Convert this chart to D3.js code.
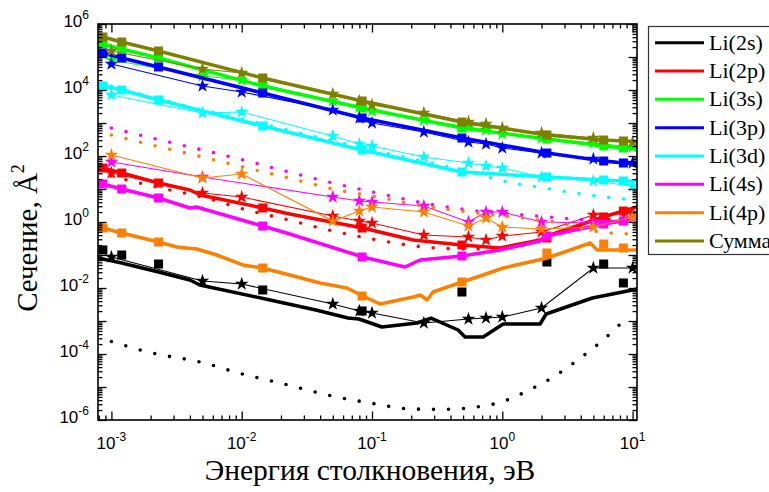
<!DOCTYPE html>
<html>
<head>
<meta charset="utf-8">
<script src="https://cdn.jsdelivr.net/npm/d3@7"></script>
<style>
  html, body { margin: 0; padding: 0; background: #fff; }
  svg { display: block; }
</style>
</head>
<body>
<svg id="chart" width="769" height="492"></svg>
<script>
// ---------- series ----------
const seriesNames  = ["Li(2s)", "Li(2p)", "Li(3s)", "Li(3p)", "Li(3d)", "Li(4s)", "Li(4p)", "Сумма"];
const seriesColors = ["#000000", "#ff0000", "#00ff00", "#0000ff", "#00ffff", "#ff00ff", "#ff8000", "#808000"];

// ---------- thick curves (energy, eV / cross section, Å^2) ----------
const gridUpper = [7.9e-4, 8.6e-4, 1.2e-3, 2.3e-3, 1.45e-2, 8.4e-2, 0.49, 2.2, 6.0, 8.5, 10.8];
const sumCurve  = [4.33e5, 4.04e5, 2.85e5, 1.52e5, 2.31e4, 4.64e3, 1070, 433, 305, 285, 266];
const li3sCurve = [2.66e5, 2.48e5, 1.75e5, 9.3e4, 1.32e4, 2850, 705, 327, 201, 175, 163];
const li3pCurve = [1.42e5, 1.32e5, 9.3e4, 4.98e4, 8100, 1420, 351, 123, 70.5, 61.4, 57.3];
const li3dCurve = [1.42e4, 1.32e4, 1.0e4, 4980, 811, 152, 32.7, 23.1, 18.7, 17.5, 17.5];

const li2pCurveE = [7.9e-4, 8.6e-4, 1.2e-3, 2.3e-3, 4.0e-3, 4.8e-3, 1.45e-2, 2.34e-2, 8.5e-2, 0.207, 0.49, 0.96, 1.95, 2.21, 5.96, 8.48, 10.8];
const li2pCurve  = [49.8, 43.3, 30.5, 15.2, 9.33, 6.58, 2.66, 1.75, 0.658, 0.285, 0.201, 0.163, 0.285, 0.376, 1.42, 2.15, 2.85];

const li4sCurveE = [7.9e-4, 8.6e-4, 1.2e-3, 2.3e-3, 4.0e-3, 4.5e-3, 1.45e-2, 2.34e-2, 8.5e-2, 0.179, 0.234, 0.49, 0.96, 1.95, 2.21, 5.96, 8.48, 10.8];
const li4sCurve  = [15.2, 14.2, 10, 5.34, 2.66, 2.85, 0.756, 0.433, 0.087, 0.0433, 0.0705, 0.0933, 0.142, 0.266, 0.376, 0.87, 1.07, 1.32];

const li4pCurveE = [7.9e-4, 8.6e-4, 1.2e-3, 2.3e-3, 3.17e-3, 4.52e-3, 6.44e-3, 1.02e-2, 1.45e-2, 2.34e-2, 3.99e-2, 6.43e-2, 8.5e-2, 0.115, 0.207, 0.234, 0.265, 0.294, 0.49, 0.676, 1.015, 2.21, 4.73, 5.36, 10, 10.8];
const li4pCurve  = [0.705, 0.658, 0.464, 0.248, 0.175, 0.152, 0.1, 0.0498, 0.0404, 0.0248, 0.0142, 0.01, 5.73e-3, 3.27e-3, 5.34e-3, 6.14e-3, 4.33e-3, 7.56e-3, 0.0152, 0.0231, 0.0404, 0.0811, 0.231, 0.142, 0.142, 0.142];

const li2sCurveE = [7.9e-4, 1.2e-3, 2.3e-3, 4.0e-3, 4.77e-3, 1.65e-2, 3.71e-2, 6.54e-2, 7.95e-2, 0.119, 0.222, 0.284, 0.458, 0.518, 0.713, 1.015, 1.95, 2.17, 4.91, 10, 10.8];
const li2sCurve  = [0.0811, 0.0573, 0.0305, 0.0175, 0.0123, 4.33e-3, 2.15e-3, 1.23e-3, 1.15e-3, 6.58e-4, 8.7e-4, 1.23e-3, 5.34e-4, 3.27e-4, 3.27e-4, 8.1e-4, 8.1e-4, 1.63e-3, 4.98e-3, 8.7e-3, 9.33e-3];

// ---------- square markers ----------
const squareE  = [8.6e-4, 1.2e-3, 2.3e-3, 1.45e-2, 8.4e-2, 0.49, 2.2, 6.0, 8.5];
const sumSq  = [4.04e5, 2.85e5, 1.52e5, 2.31e4, 4640, 1070, 433, 305, 285];
const li3sSq = [2.48e5, 1.75e5, 9.3e4, 1.32e4, 2850, 705, 327, 201, 175];
const li3pSq = [1.32e5, 9.3e4, 4.98e4, 8100, 1420, 351, 123, 70.5, 61.4];
const li3dSq = [1.32e4, 1.0e4, 4980, 811, 152, 32.7, 23.1, 18.7, 17.5];
const li2pSq = [43.3, 30.5, 15.2, 2.66, 0.658, 0.201, 0.327, 1.42, 2.15];
const li4sSq = [14.2, 10, 5.34, 0.756, 0.087, 0.0933, 0.376, 0.87, 1.07];
const li4pSq = [0.658, 0.464, 0.248, 0.0404, 5.73e-3, 0.0152, 0.115, 0.215, 0.163];
const li2sSq = [0.142, 0.1, 0.0533, 8.7e-3, 2.01e-3, 7.56e-3, 0.0614, 0.0533, 0.0142];

// ---------- star markers joined by thin lines ----------
const starE = [0.001, 0.005, 0.01, 0.05, 0.08, 0.1, 0.25, 0.55, 0.75, 1, 2, 5, 10];
const sumSt  = [1.52e5, 4.33e4, 3.27e4, 7560, 4640, 3510, 2010, 1070, 933, 705, 498, 351, 266];
const li3sSt = [8.1e4, 2.66e4, 2.01e4, 4640, 3050, 2310, 1230, 756, 614, 464, 351, 248, 187];
const li3pSt = [6.14e4, 1.32e4, 8700, 2480, 1420, 1000, 534, 266, 231, 175, 123, 81.1, 61.4];
const li3dSt = [7050, 2010, 2150, 404, 231, 201, 93.3, 61.4, 49.8, 43.3, 23.1, 17.5, 12.3];
const li2pSt = [30.5, 7.56, 5.72, 1.52, 1.07, 0.933, 0.404, 0.351, 0.285, 0.376, 0.498, 1.63, 1.87];
const li4sSt = [65.8, 23.1, null, 5.72, 4.33, 4.04, 3.05, 1.0, 2.01, 2.01, 1.0, 0.933, 1.32];
const li4pSt = [107, 21.5, 28.5, 1.07, 2.15, 2.85, 2.01, 0.756, 1.32, 0.705, 0.614, 0.705, 1.42];
const li2sSt = [0.087, 0.0163, 0.0132, 3.27e-3, 2.01e-3, 1.75e-3, 8.7e-4, 1.15e-3, 1.23e-3, 1.32e-3, 2.48e-3, 0.0404, 0.0404];

// ---------- dotted approximations ----------
const dotE = [1e-3, 2.2e-3, 5e-3, 1.1e-2, 2.3e-2, 5e-2, 0.11, 0.25, 0.55, 1.2, 2.8, 5.6, 10];
const li4sDot = [705, 327, 152, 70.5, 32.7, 15.2, 7.56, 3.76, 2.31, 1.75, 1.32, 1.07, 0.87];
const li4pDot = [433, 201, 93.3, 43.3, 21.5, 10, 5.72, 3.05, 2.01, 1.42, 0.933, 0.498, 0.433];
const li2pDot = [24.8, 11.5, 5.72, 2.31, 1.15, 0.534, 0.285, 0.175, 0.152, 0.175, 0.498, 1.0, 1.87];
const li3dDotE = [1e-3, 2.3e-3, 1.45e-2, 8.4e-2, 0.49, 1.2, 2.1, 3.6, 6.2, 10];
const li3dDot  = [1.32e4, 5340, 933, 175, 37.6, 15.2, 10.7, 7.56, 5.72, 4.64];
const li2sDotE = [0.001, 0.002, 0.005, 0.01, 0.02, 0.05, 0.1, 0.2, 0.35, 0.6, 1, 1.6, 2.6, 4, 6, 9.3];
const li2sDot  = [2.4e-4, 1.1e-4, 5.5e-5, 2.5e-5, 1.3e-5, 5.3e-6, 3.2e-6, 2.15e-6, 2.1e-6, 2.4e-6, 3.6e-6, 8.0e-6, 2.3e-5, 7.7e-5, 2.75e-4, 1.42e-3];

// ---------- axis ticks ----------
const xMajorTicks = [1e-3, 1e-2, 1e-1, 1, 10];
const xTickExponents = ["-3", "-2", "-1", "0", "1"];
const yLabelTicks = [1e-6, 1e-4, 1e-2, 1, 1e2, 1e4, 1e6];
const yTickExponents = ["-6", "-4", "-2", "0", "2", "4", "6"];

const xTitle = "Энергия столкновения, эВ";
const yTitle = "Сечение, Å";

// ---------- assemble ----------
const zip = (xs, ys) => xs.map((e, i) => ({ e, v: ys[i] })).filter(d => d.v != null);
const series = [
  { curve: zip(li2sCurveE, li2sCurve), sq: zip(squareE, li2sSq), st: zip(starE, li2sSt), dot: zip(li2sDotE, li2sDot) },
  { curve: zip(li2pCurveE, li2pCurve), sq: zip(squareE, li2pSq), st: zip(starE, li2pSt), dot: zip(dotE, li2pDot) },
  { curve: zip(gridUpper, li3sCurve),  sq: zip(squareE, li3sSq), st: zip(starE, li3sSt), dot: null },
  { curve: zip(gridUpper, li3pCurve),  sq: zip(squareE, li3pSq), st: zip(starE, li3pSt), dot: null },
  { curve: zip(gridUpper, li3dCurve),  sq: zip(squareE, li3dSq), st: zip(starE, li3dSt), dot: zip(li3dDotE, li3dDot) },
  { curve: zip(li4sCurveE, li4sCurve), sq: zip(squareE, li4sSq), st: zip(starE, li4sSt), dot: zip(dotE, li4sDot) },
  { curve: zip(li4pCurveE, li4pCurve), sq: zip(squareE, li4pSq), st: zip(starE, li4pSt), dot: zip(dotE, li4pDot) },
  { curve: zip(gridUpper, sumCurve),   sq: zip(squareE, sumSq),  st: zip(starE, sumSt),  dot: null }
];

const svg = d3.select("#chart");
const plot = { left: 98, top: 24, right: 637, bottom: 420 };

const x = d3.scaleLog().domain([7.89e-4, 10.81]).range([plot.left, plot.right]);
const y = d3.scaleLog().domain([1e-6, 1e6]).range([plot.bottom, plot.top]);

svg.append("rect").attr("width", 769).attr("height", 492).attr("fill", "#fff");

svg.append("defs").append("clipPath").attr("id", "plotClip")
  .append("rect")
  .attr("x", plot.left).attr("y", plot.top)
  .attr("width", plot.right - plot.left).attr("height", plot.bottom - plot.top);

const g = svg.append("g").attr("clip-path", "url(#plotClip)");

const line = d3.line().x(d => x(d.e)).y(d => y(d.v));
const smooth = d3.line().x(d => x(d.e)).y(d => y(d.v)).curve(d3.curveMonotoneX);
const star = d3.symbol().type(d3.symbolStar).size(58);

series.forEach((s, i) => {
  const c = seriesColors[i];
  const sg = g.append("g");
  sg.append("path").datum(s.curve).attr("d", line)
    .attr("fill", "none").attr("stroke", c).attr("stroke-width", 3.5)
    .attr("stroke-linejoin", "round");
  if (s.dot) {
    sg.append("path").datum(s.dot).attr("d", smooth)
      .attr("fill", "none").attr("stroke", c).attr("stroke-width", 3.6)
      .attr("stroke-linecap", "round").attr("stroke-dasharray", "0 15");
  }
  sg.append("path").datum(s.st).attr("d", line)
    .attr("fill", "none").attr("stroke", c).attr("stroke-width", 1.1);
  sg.selectAll("path.star").data(s.st).join("path").attr("class", "star")
    .attr("d", star)
    .attr("transform", d => `translate(${x(d.e)},${y(d.v)})`)
    .attr("fill", c);
  sg.selectAll("rect.sq").data(s.sq).join("rect").attr("class", "sq")
    .attr("x", d => x(d.e) - 4.5).attr("y", d => y(d.v) - 4.5)
    .attr("width", 9).attr("height", 9)
    .attr("fill", c);
});

// ---------- axes (ticks inward on all four sides) ----------
function decadeMinors(lo, hi) {
  const out = [];
  for (let p = lo; p <= hi; p++) for (let k = 2; k <= 9; k++) out.push(k * Math.pow(10, p));
  return out;
}
const xMinor = decadeMinors(-4, 1).filter(v => v > x.domain()[0] && v < x.domain()[1]);
const yMinor = decadeMinors(-6, 5);
const yMajor = d3.range(-6, 7).map(p => Math.pow(10, p));

function styleAxis(sel) {
  sel.select(".domain").remove();
  sel.selectAll(".tick line").attr("stroke", "#000").attr("stroke-width", 1.3);
  sel.selectAll(".tick text").remove();
}
const axes = svg.append("g");
[[d3.axisBottom, plot.bottom], [d3.axisTop, plot.top]].forEach(([fn, pos]) => {
  axes.append("g").attr("transform", `translate(0,${pos})`)
    .call(fn(x).tickValues(xMinor).tickSizeInner(-4.5).tickSizeOuter(0).tickFormat(""))
    .call(styleAxis);
  axes.append("g").attr("transform", `translate(0,${pos})`)
    .call(fn(x).tickValues(xMajorTicks).tickSizeInner(-8.5).tickSizeOuter(0).tickFormat(""))
    .call(styleAxis);
});
[[d3.axisLeft, plot.left], [d3.axisRight, plot.right]].forEach(([fn, pos]) => {
  axes.append("g").attr("transform", `translate(${pos},0)`)
    .call(fn(y).tickValues(yMinor).tickSizeInner(-4.5).tickSizeOuter(0).tickFormat(""))
    .call(styleAxis);
  axes.append("g").attr("transform", `translate(${pos},0)`)
    .call(fn(y).tickValues(yMajor).tickSizeInner(-8.5).tickSizeOuter(0).tickFormat(""))
    .call(styleAxis);
});

svg.append("rect")
  .attr("x", plot.left).attr("y", plot.top)
  .attr("width", plot.right - plot.left).attr("height", plot.bottom - plot.top)
  .attr("fill", "none").attr("stroke", "#000").attr("stroke-width", 1.6);

// ---------- tick labels ----------
const tickFont = "'Liberation Sans', Arial, sans-serif";
xMajorTicks.forEach((v, i) => {
  const t = svg.append("text")
    .attr("x", x(v)).attr("y", 449)
    .attr("text-anchor", "middle")
    .attr("font-family", tickFont).attr("font-size", 17).attr("fill", "#000");
  t.append("tspan").text("10");
  t.append("tspan").attr("dy", -8).attr("font-size", 12).text(xTickExponents[i]);
});
yLabelTicks.forEach((v, i) => {
  const t = svg.append("text")
    .attr("x", 89).attr("y", y(v) + 3)
    .attr("text-anchor", "end")
    .attr("font-family", tickFont).attr("font-size", 17).attr("fill", "#000");
  t.append("tspan").text("10");
  t.append("tspan").attr("dy", -8).attr("font-size", 12).text(yTickExponents[i]);
});

// ---------- axis titles ----------
const serif = "'Liberation Serif', 'Times New Roman', serif";
svg.append("text")
  .attr("x", 370).attr("y", 480)
  .attr("text-anchor", "middle")
  .attr("font-family", serif).attr("font-size", 29.5).attr("fill", "#000")
  .text(xTitle);

const yt = svg.append("text")
  .attr("transform", "translate(37,238) rotate(-90)")
  .attr("text-anchor", "middle")
  .attr("font-family", serif).attr("font-size", 29).attr("fill", "#000");
yt.append("tspan").text(yTitle);
yt.append("tspan").attr("dy", -13).attr("font-size", 18).text("2");

// ---------- legend ----------
const lg = svg.append("g");
lg.append("rect")
  .attr("x", 648.5).attr("y", 26.5).attr("width", 140).attr("height", 228)
  .attr("fill", "#fff").attr("stroke", "#333").attr("stroke-width", 1.2);
seriesNames.forEach((name, i) => {
  const ly = 42.7 + i * 28.33;
  lg.append("line")
    .attr("x1", 655).attr("x2", 704).attr("y1", ly).attr("y2", ly)
    .attr("stroke", seriesColors[i]).attr("stroke-width", 3);
  lg.append("text")
    .attr("x", 709).attr("y", ly + 7)
    .attr("font-family", serif).attr("font-size", 22).attr("fill", "#000")
    .text(name);
});
</script>
</body>
</html>
